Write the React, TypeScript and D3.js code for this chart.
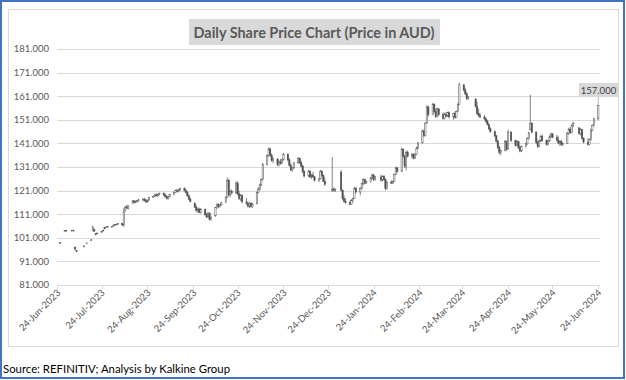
import React from "react";
import * as d3 from "d3";

// Each row: [day of month, open, high, low, close]
type Row = [number, number, number, number, number];

const jun2023: Row[] = [
  [26, 98.8, 99.2, 98.5, 99.0], [29, 104.0, 104.2, 103.8, 104.1], [30, 104.1, 104.3, 103.9, 104.0],
];
const jul2023: Row[] = [
  [4, 104.0, 104.3, 103.8, 104.2], [5, 104.2, 104.4, 103.7, 103.9], [6, 97.0, 97.3, 95.8, 96.2],
  [7, 95.6, 95.8, 95.0, 95.3], [12, 97.3, 97.8, 97.0, 97.5], [14, 98.5, 99.0, 98.3, 98.8],
  [17, 99.8, 100.4, 99.6, 100.1], [18, 104.0, 106.2, 103.8, 105.5], [19, 104.5, 104.8, 103.6, 103.8],
  [20, 102.8, 103.0, 102.0, 102.4], [21, 102.8, 103.2, 102.6, 103.0], [24, 103.4, 103.8, 103.2, 103.6],
  [25, 104.0, 104.5, 103.8, 104.2], [26, 104.8, 105.6, 104.6, 105.4], [27, 105.4, 105.8, 105.0, 105.6],
  [28, 105.5, 105.9, 105.2, 105.7], [31, 105.7, 106.0, 105.3, 105.8],
];
const aug2023: Row[] = [
  [1, 106.0, 106.6, 105.8, 106.4], [2, 106.4, 106.8, 106.0, 106.6], [3, 106.6, 107.0, 106.3, 106.8],
  [4, 106.8, 107.2, 106.5, 107.0], [7, 107.0, 107.3, 106.0, 106.4], [8, 106.5, 113.6, 105.6, 112.0],
  [9, 112.5, 114.5, 112.0, 114.0], [10, 114.0, 115.0, 113.2, 113.6], [11, 113.6, 114.8, 113.0, 114.5],
  [14, 115.5, 117.0, 115.3, 116.6], [15, 116.6, 117.0, 115.7, 116.0], [16, 116.0, 116.8, 115.6, 116.4],
  [17, 116.4, 117.2, 116.0, 116.8], [18, 116.8, 117.5, 116.2, 117.0], [21, 117.0, 117.8, 116.5, 117.4],
  [22, 117.4, 117.9, 116.4, 116.8], [23, 116.8, 117.5, 115.7, 116.2], [24, 116.2, 117.2, 115.9, 117.0],
  [25, 117.0, 118.2, 116.8, 118.0], [28, 118.0, 119.0, 117.8, 118.6], [29, 118.6, 119.6, 118.3, 119.2],
  [30, 119.2, 120.0, 118.5, 118.8], [31, 118.8, 119.6, 118.2, 119.4],
];
const sep2023: Row[] = [
  [1, 119.4, 120.2, 119.0, 119.8], [4, 119.8, 120.3, 118.8, 119.2], [5, 119.2, 119.8, 118.0, 118.4],
  [6, 118.4, 119.0, 117.2, 117.6], [7, 117.6, 118.8, 117.2, 118.5], [8, 118.5, 119.6, 118.0, 119.3],
  [11, 119.3, 120.6, 119.0, 120.2], [12, 120.2, 121.4, 120.0, 121.0], [13, 121.0, 121.8, 120.3, 120.6],
  [14, 120.6, 121.6, 120.2, 121.3], [15, 121.3, 122.2, 120.8, 121.8], [18, 121.8, 122.4, 120.6, 121.0],
  [19, 121.0, 121.8, 119.8, 120.2], [20, 120.2, 120.8, 118.4, 118.8], [21, 118.8, 119.4, 117.0, 117.4],
  [22, 117.4, 118.0, 116.0, 116.4], [25, 115.6, 116.0, 113.6, 114.0], [26, 114.0, 114.8, 112.0, 112.6],
  [27, 112.6, 113.8, 111.6, 113.2], [28, 113.2, 113.8, 111.4, 111.8], [29, 111.8, 113.6, 111.2, 113.0],
];
const oct2023: Row[] = [
  [2, 113.0, 113.4, 110.4, 110.8], [3, 110.8, 111.6, 109.4, 109.8], [4, 109.8, 112.0, 109.4, 111.4],
  [5, 111.4, 111.8, 108.4, 108.8], [6, 108.8, 110.0, 108.2, 109.6], [9, 110.2, 114.0, 110.0, 113.8],
  [10, 113.8, 115.6, 113.2, 115.0], [11, 115.0, 115.7, 113.6, 114.2], [12, 114.2, 115.4, 113.8, 115.0],
  [13, 115.0, 116.2, 114.6, 115.8], [16, 116.0, 118.6, 115.8, 118.2], [17, 118.2, 126.6, 118.0, 125.4],
  [18, 125.4, 126.0, 118.4, 119.2], [19, 119.2, 121.2, 118.2, 120.6], [20, 120.6, 121.6, 119.4, 120.0],
  [23, 120.0, 124.8, 119.6, 124.2], [24, 124.2, 125.0, 119.0, 119.6], [25, 119.6, 121.0, 117.0, 117.6],
  [26, 117.6, 119.6, 116.6, 119.0], [27, 119.0, 119.4, 115.6, 116.2], [30, 116.2, 117.8, 115.0, 115.6],
  [31, 115.6, 116.4, 113.8, 114.4],
];
const nov2023: Row[] = [
  [1, 114.4, 116.0, 113.6, 115.6], [2, 115.6, 116.2, 113.8, 114.2], [3, 114.2, 115.8, 113.6, 115.4],
  [6, 115.4, 120.6, 115.2, 120.2], [7, 120.2, 122.4, 119.8, 121.6], [8, 121.6, 124.0, 121.0, 123.4],
  [9, 123.4, 126.2, 123.0, 125.6], [10, 125.6, 132.8, 125.2, 132.0], [13, 132.0, 136.4, 131.6, 135.8],
  [14, 135.8, 139.4, 135.2, 138.6], [15, 138.6, 139.2, 135.4, 136.0], [16, 136.0, 136.8, 133.2, 133.8],
  [17, 133.8, 135.0, 132.6, 134.4], [20, 134.4, 134.8, 131.4, 132.0], [21, 132.0, 133.8, 131.2, 133.2],
  [22, 133.2, 134.4, 132.0, 132.6], [23, 132.6, 134.6, 132.2, 134.0], [24, 134.0, 137.0, 133.8, 136.4],
  [27, 136.4, 136.8, 133.4, 134.0], [28, 134.0, 134.8, 131.2, 131.8], [29, 131.8, 132.6, 129.2, 129.8],
  [30, 129.8, 131.0, 129.0, 130.6],
];
const dec2023: Row[] = [
  [1, 130.6, 133.2, 130.2, 132.8], [4, 132.8, 135.2, 132.4, 134.6], [5, 134.6, 135.0, 132.2, 132.8],
  [6, 132.8, 133.6, 130.8, 131.4], [7, 131.4, 131.8, 128.4, 129.0], [8, 129.0, 129.6, 126.6, 127.2],
  [11, 127.2, 129.8, 126.8, 129.2], [12, 129.2, 129.6, 126.2, 126.8], [13, 126.8, 128.0, 126.0, 127.6],
  [14, 127.6, 129.0, 126.4, 126.8], [15, 126.8, 127.2, 124.8, 125.4], [18, 125.4, 126.4, 124.6, 126.0],
  [19, 126.0, 129.8, 125.8, 129.2], [20, 129.2, 129.6, 126.8, 127.4], [21, 127.4, 127.8, 124.6, 125.0],
  [22, 125.0, 126.6, 123.0, 123.6], [27, 121.0, 135.2, 120.4, 121.6], [28, 121.6, 122.4, 120.6, 121.2],
  [29, 121.2, 122.0, 120.4, 121.6],
];
const jan2024: Row[] = [
  [2, 128.8, 129.8, 120.6, 121.2], [3, 121.2, 121.4, 117.0, 117.6], [4, 117.6, 119.0, 115.8, 116.4],
  [5, 116.4, 117.8, 115.4, 116.0], [8, 116.0, 116.8, 114.8, 115.2], [9, 115.2, 117.4, 115.0, 116.8],
  [10, 116.8, 118.0, 116.0, 117.6], [11, 117.6, 122.6, 117.4, 122.0], [12, 122.0, 122.6, 119.8, 120.4],
  [15, 120.4, 122.4, 119.0, 121.8], [16, 121.8, 124.4, 121.4, 124.0], [17, 124.0, 126.2, 123.4, 125.6],
  [18, 125.6, 126.0, 123.6, 124.2], [19, 124.2, 125.2, 123.8, 124.8], [22, 124.8, 126.8, 124.4, 126.2],
  [23, 126.2, 128.2, 125.8, 127.6], [24, 127.6, 128.0, 125.0, 125.6], [25, 125.6, 127.2, 125.2, 126.8],
  [29, 126.8, 127.8, 124.8, 125.4], [30, 125.4, 127.4, 125.0, 127.0], [31, 127.0, 127.6, 125.2, 125.8],
];
const feb2024: Row[] = [
  [1, 125.8, 126.2, 121.0, 121.8], [2, 121.8, 125.0, 121.4, 124.6], [5, 124.6, 125.4, 123.8, 124.2],
  [6, 124.2, 125.2, 123.8, 124.8], [7, 124.8, 128.2, 124.6, 127.8], [8, 127.8, 131.2, 127.4, 130.6],
  [9, 130.6, 131.0, 128.6, 129.2], [12, 129.2, 139.2, 129.0, 138.4], [13, 138.4, 139.0, 135.0, 135.6],
  [14, 135.6, 136.2, 130.6, 131.4], [15, 131.4, 138.0, 129.6, 137.2], [16, 137.2, 138.0, 135.0, 135.6],
  [19, 135.4, 137.0, 134.6, 136.2], [20, 136.2, 136.8, 134.2, 134.8], [21, 134.8, 136.8, 134.4, 136.4],
  [22, 136.4, 139.6, 136.0, 139.0], [23, 139.0, 141.6, 138.6, 141.2], [26, 141.2, 146.8, 141.0, 146.2],
  [27, 146.2, 147.0, 143.6, 144.4], [28, 144.4, 150.0, 144.0, 149.6], [29, 149.6, 157.2, 149.4, 156.4],
];
const mar2024: Row[] = [
  [1, 156.4, 157.0, 152.4, 153.2], [4, 153.2, 158.2, 153.0, 157.6], [5, 157.6, 158.0, 154.0, 154.6],
  [6, 154.6, 156.0, 151.8, 152.4], [7, 152.4, 156.2, 152.0, 155.6], [8, 155.6, 156.0, 152.6, 153.2],
  [11, 153.2, 154.2, 151.0, 151.6], [12, 151.6, 154.0, 151.2, 153.4], [13, 153.4, 154.2, 152.0, 152.6],
  [14, 152.6, 154.4, 152.2, 154.0], [15, 154.0, 154.6, 151.6, 152.2], [18, 152.2, 154.0, 151.0, 153.6],
  [19, 153.6, 154.4, 151.4, 152.0], [20, 152.0, 155.0, 151.8, 154.6], [21, 154.6, 158.2, 154.2, 157.6],
  [22, 157.6, 166.8, 157.4, 165.8], [25, 165.8, 166.2, 163.0, 163.6], [26, 163.6, 164.6, 161.4, 162.0],
  [27, 162.0, 162.8, 159.4, 160.0], [28, 160.0, 161.0, 159.4, 160.6],
];
const apr2024: Row[] = [
  [2, 159.8, 160.0, 156.2, 156.8], [3, 156.8, 158.6, 153.0, 153.6], [4, 153.6, 155.8, 152.2, 152.8],
  [5, 152.8, 154.0, 151.6, 152.2], [8, 152.2, 153.0, 150.8, 151.4], [9, 151.4, 152.0, 149.6, 150.2],
  [10, 150.2, 151.0, 148.6, 149.0], [11, 149.0, 149.4, 146.6, 147.2], [12, 147.2, 147.8, 145.6, 146.0],
  [15, 146.0, 146.4, 143.6, 144.2], [16, 144.2, 144.6, 141.4, 142.0], [17, 142.0, 142.4, 138.6, 139.2],
  [18, 139.2, 140.0, 136.4, 137.2], [19, 137.2, 138.4, 136.0, 138.0], [22, 138.0, 142.4, 137.6, 141.8],
  [23, 141.8, 142.2, 137.8, 138.6], [24, 138.6, 146.8, 138.4, 145.8], [26, 145.8, 146.2, 141.6, 142.2],
  [29, 142.2, 142.6, 139.6, 140.2], [30, 140.2, 142.4, 139.8, 141.8],
];
const may2024: Row[] = [
  [1, 141.8, 142.0, 138.6, 139.2], [2, 139.2, 140.2, 137.2, 137.8], [3, 137.8, 140.0, 137.4, 139.6],
  [6, 139.6, 141.4, 139.2, 140.8], [7, 140.8, 143.6, 140.4, 143.0], [8, 143.0, 146.0, 142.6, 145.4],
  [9, 147.0, 161.6, 146.6, 149.6], [10, 149.6, 149.8, 145.2, 145.8], [13, 145.8, 146.0, 140.8, 141.4],
  [14, 141.4, 142.4, 139.0, 139.8], [15, 139.8, 142.6, 139.4, 142.0], [16, 142.0, 144.6, 141.6, 144.0],
  [17, 144.0, 144.8, 141.6, 142.2], [20, 142.2, 142.6, 140.0, 140.6], [21, 140.6, 142.6, 140.2, 142.0],
  [22, 142.0, 144.4, 141.8, 143.8], [23, 143.8, 145.6, 143.2, 145.0], [24, 145.0, 145.4, 143.2, 143.6],
  [27, 143.6, 144.6, 141.8, 142.4], [28, 142.4, 144.0, 140.6, 141.2], [29, 141.2, 142.2, 140.0, 141.8],
  [30, 141.8, 142.6, 140.0, 140.6], [31, 140.6, 141.4, 139.8, 141.0],
];
const jun2024: Row[] = [
  [3, 141.0, 145.8, 140.8, 145.2], [4, 145.2, 147.6, 144.6, 147.0], [5, 147.0, 148.0, 145.0, 145.6],
  [6, 145.6, 149.0, 145.2, 148.6], [7, 148.6, 150.2, 147.8, 149.4], [11, 147.6, 147.8, 144.6, 145.2],
  [12, 145.2, 147.4, 144.4, 146.8], [13, 146.8, 147.2, 142.6, 143.2], [14, 143.2, 143.6, 141.0, 141.6],
  [17, 141.6, 143.2, 140.0, 140.6], [18, 140.6, 143.0, 140.2, 142.6], [19, 142.6, 147.2, 142.2, 146.6],
  [20, 146.6, 149.0, 146.2, 148.6], [21, 148.6, 152.0, 148.2, 151.4], [24, 151.4, 157.4, 151.0, 157.0],
];

const monthList: [number, number, Row[]][] = [
  [2023, 6, jun2023], [2023, 7, jul2023], [2023, 8, aug2023], [2023, 9, sep2023],
  [2023, 10, oct2023], [2023, 11, nov2023], [2023, 12, dec2023], [2024, 1, jan2024],
  [2024, 2, feb2024], [2024, 3, mar2024], [2024, 4, apr2024], [2024, 5, may2024], [2024, 6, jun2024],
];

const yTicks = [81, 91, 101, 111, 121, 131, 141, 151, 161, 171, 181];
const xTickDates = [
  "2023-06-24", "2023-07-24", "2023-08-24", "2023-09-24", "2023-10-24", "2023-11-24", "2023-12-24",
  "2024-01-24", "2024-02-24", "2024-03-24", "2024-04-24", "2024-05-24", "2024-06-24",
];
const chartTitle = "Daily Share Price Chart (Price in AUD)";
const sourceText = "Source: REFINITIV; Analysis by Kalkine Group";

const FONT = "Lato, 'Open Sans', sans-serif";

export default function App() {
  const candles = monthList.flatMap(([yr, mo, rows]) =>
    rows.map(([d, o, h, l, c]) => ({ date: new Date(Date.UTC(yr, mo - 1, d)), o, h, l, c }))
  );
  const parse = d3.utcParse("%Y-%m-%d");
  const ticks = xTickDates.map((s) => parse(s) as Date);

  const x = d3.scaleUtc().domain([ticks[0], ticks[ticks.length - 1]]).range([57.3, 598.3]);
  const y = d3.scaleLinear().domain([81, 181]).range([285, 49]);
  const fmtY = d3.format(".3f");
  const fmtX = d3.utcFormat("%d-%b-%Y");

  const last = candles[candles.length - 1];
  const lx = x(last.date);
  const bodyW = 1.3;
  const ink = "#505050";

  return (
    <svg
      width={626}
      height={380}
      style={{ position: "absolute", left: 0, top: 0, background: "#fff" }}
      fontFamily={FONT}
    >
      <rect x={0} y={0} width={626} height={380} fill="#fff" />
      <rect x={1} y={1} width={623} height={377} fill="none" stroke="#4472C4" strokeWidth={2} />
      <rect x={8.5} y={9.5} width={610} height={337} fill="#fff" stroke="#D9D9D9" strokeWidth={1} />

      {/* title */}
      <rect x={189} y={19} width={251} height={26} fill="#D9D9D9" />
      <text x={314} y={37.5} textAnchor="middle" fontSize={14.5} fontWeight="bold" fill="#595959"
        textLength={241} lengthAdjust="spacingAndGlyphs">{chartTitle}</text>

      {/* gridlines + y labels */}
      {yTicks.map((t) => (
        <g key={t}>
          <line x1={57} x2={600} y1={Math.round(y(t)) + 0.5} y2={Math.round(y(t)) + 0.5} stroke="#D9D9D9" strokeWidth={1} />
          <text x={49} y={y(t)} dy="0.35em" textAnchor="end" fontSize={9.5} fill="#595959">{fmtY(t)}</text>
        </g>
      ))}

      {/* x ticks + labels */}
      {ticks.map((t, i) => (
        <g key={i}>
          <line x1={Math.round(x(t)) + 0.5} x2={Math.round(x(t)) + 0.5} y1={285} y2={289} stroke="#D9D9D9" />
          <text transform={`translate(${x(t) + 1.5},${291}) rotate(-45)`} textAnchor="end" dy="0.35em"
            fontSize={9.5} fill="#595959">{fmtX(t)}</text>
        </g>
      ))}

      {/* candles */}
      {candles.map((d, i) => {
        const cx = x(d.date);
        const up = d.c >= d.o;
        const top = y(Math.max(d.o, d.c));
        const bot = y(Math.min(d.o, d.c));
        return (
          <g key={i}>
            <line x1={cx} x2={cx} y1={y(d.h)} y2={y(d.l)} stroke={ink} strokeWidth={0.7} />
            <rect x={cx - bodyW / 2} y={top} width={bodyW} height={Math.max(bot - top, 0.7)}
              fill={up ? "#fff" : ink} stroke={ink} strokeWidth={0.5} />
          </g>
        );
      })}

      {/* last value label */}
      <line x1={lx} x2={lx} y1={97} y2={y(last.h)} stroke="#A6A6A6" strokeWidth={0.8} />
      <rect x={579} y={83} width={39} height={14} fill="#D9D9D9" />
      <text x={598.5} y={93.5} textAnchor="middle" fontSize={9.5} fill="#404040">{fmtY(last.c)}</text>

      {/* source */}
      <text x={3} y={373} fontSize={12} fill="#000" textLength={227} lengthAdjust="spacingAndGlyphs">{sourceText}</text>
    </svg>
  );
}
